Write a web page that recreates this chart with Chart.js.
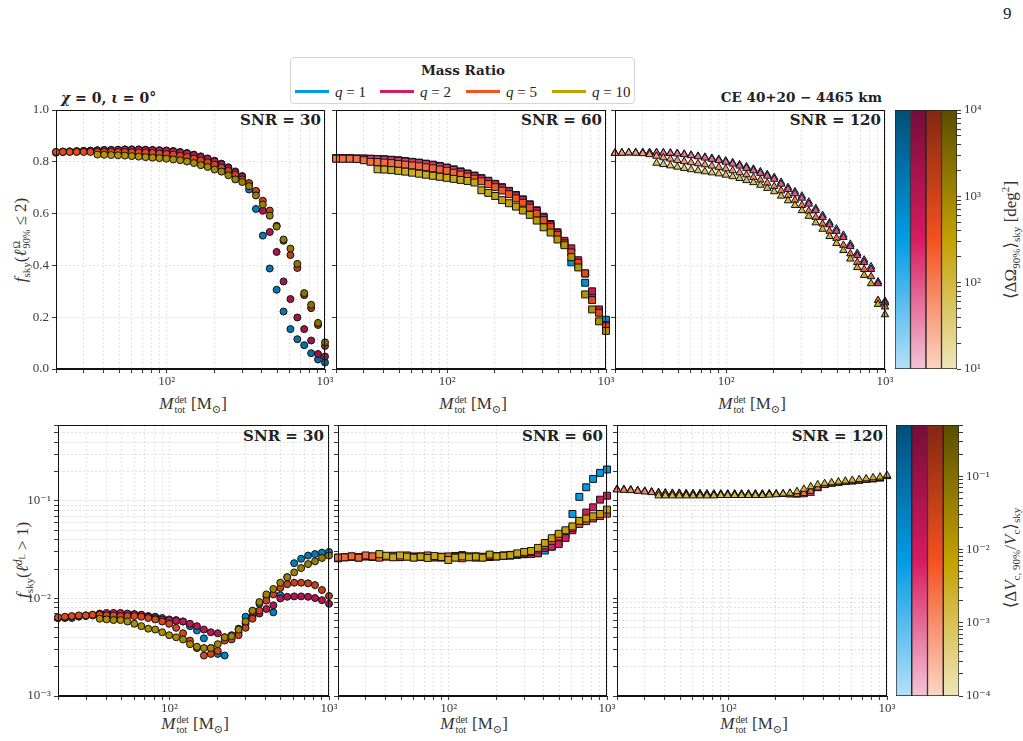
<!DOCTYPE html>
<html><head><meta charset="utf-8">
<script src="https://cdn.jsdelivr.net/npm/chart.js@4.4.1/dist/chart.umd.min.js"></script>
<style>
html,body{margin:0;padding:0;background:#fff;}
body{width:1023px;height:741px;position:relative;overflow:hidden;font-family:"Liberation Serif","DejaVu Serif",serif;color:#222;}
canvas{position:absolute;}
.tx{position:absolute;white-space:nowrap;line-height:1;}
.bold{font-family:"DejaVu Serif",serif;font-weight:bold;}
.snr{font-family:"DejaVu Serif",serif;font-weight:bold;font-size:15px;position:absolute;white-space:nowrap;line-height:1;transform:translateX(-100%);}
.rot{transform:translate(-50%,-50%) rotate(-90deg);}
.ctr{transform:translate(-50%,-50%);}
.ss{display:inline-flex;flex-direction:column;vertical-align:middle;font-size:0.6em;line-height:1.0;margin-left:1px;}
.up{display:inline-block;vertical-align:0.55em;font-size:0.68em;line-height:1;}
.dn{display:inline-block;vertical-align:-0.3em;font-size:0.75em;line-height:1;}
.lab{font-size:17px;color:#333;}
sub,sup{font-size:0.65em;line-height:0;}
.hd{position:absolute;height:3px;width:34px;top:90px;}
.lq{position:absolute;top:84px;font-size:15px;white-space:nowrap;}
</style></head><body>

<div class="tx" style="left:1003px;top:5px;font-size:17px;">9</div>

<div style="position:absolute;left:290px;top:57px;width:345px;height:47px;border:1px solid #d4d4d4;border-radius:4px;box-sizing:border-box;"></div>
<div class="tx bold ctr" style="left:463px;top:71px;font-size:13.5px;">Mass Ratio</div>
<div class="hd" style="left:295px;background:#039be5;"></div><div class="lq" style="left:335px;"><i>q</i> = 1</div>
<div class="hd" style="left:380px;background:#d81b60;"></div><div class="lq" style="left:420px;"><i>q</i> = 2</div>
<div class="hd" style="left:466px;background:#f4511e;"></div><div class="lq" style="left:506px;"><i>q</i> = 5</div>
<div class="hd" style="left:552px;background:#c4a000;"></div><div class="lq" style="left:592px;"><i>q</i> = 10</div>

<div class="tx bold" style="left:61px;top:91px;font-size:14px;"><i>χ</i> = 0, <i>ι</i> = 0°</div>
<div class="tx bold" style="left:882px;top:91px;font-size:13.5px;transform:translateX(-100%);">CE 40+20 − 4465 km</div>

<div class="snr" style="left:321px;top:113px;">SNR = 30</div>
<div class="snr" style="left:602px;top:113px;">SNR = 60</div>
<div class="snr" style="left:881px;top:113px;">SNR = 120</div>
<div class="snr" style="left:324px;top:429px;">SNR = 30</div>
<div class="snr" style="left:603px;top:429px;">SNR = 60</div>
<div class="snr" style="left:883px;top:429px;">SNR = 120</div>

<div class="tx lab ctr" style="left:193px;top:405px;"><i>M</i><span class="ss"><span>det</span><span>tot</span></span> [M<sub>⊙</sub>]</div>
<div class="tx lab ctr" style="left:473px;top:405px;"><i>M</i><span class="ss"><span>det</span><span>tot</span></span> [M<sub>⊙</sub>]</div>
<div class="tx lab ctr" style="left:752px;top:405px;"><i>M</i><span class="ss"><span>det</span><span>tot</span></span> [M<sub>⊙</sub>]</div>
<div class="tx lab ctr" style="left:195px;top:725px;"><i>M</i><span class="ss"><span>det</span><span>tot</span></span> [M<sub>⊙</sub>]</div>
<div class="tx lab ctr" style="left:474px;top:725px;"><i>M</i><span class="ss"><span>det</span><span>tot</span></span> [M<sub>⊙</sub>]</div>
<div class="tx lab ctr" style="left:754px;top:725px;"><i>M</i><span class="ss"><span>det</span><span>tot</span></span> [M<sub>⊙</sub>]</div>

<div class="tx lab rot" style="left:22px;top:240px;"><i>f</i><sub>sky</sub>(<i>ℓ</i><span class="ss"><span>Ω</span><span>90%</span></span> ≤ 2)</div>
<div class="tx lab rot" style="left:22px;top:560px;"><i>f</i><sub>sky</sub>(<i>ℓ</i><span class="up"><i>d</i><span class="dn">L</span></span> &gt; 1)</div>
<div class="tx lab rot" style="left:1010px;top:240px;">⟨ΔΩ<sub>90%</sub>⟩<sub>sky</sub> [deg<sup>2</sup>]</div>
<div class="tx lab rot" style="left:1010px;top:558px;">⟨Δ<i>V</i><sub>c, 90%</sub>/<i>V</i><sub>c</sub>⟩<sub>sky</sub></div>

<script>
// ---------------- DATA ----------------
const MASS = [20.0,22.1,24.4,27.0,29.9,33.0,36.5,40.3,44.6,49.3,54.5,60.2,66.6,73.6,81.4,90.0,99.5,110.0,121.6,134.4,148.6,164.3,181.6,200.8,221.9,245.3,271.2,299.8,331.4,366.4,405.0,447.8,495.0,547.2,605.0,668.8,739.3,817.3,903.6,1000.0];
const Q_LABELS = ['q = 1','q = 2','q = 5','q = 10'];
const SNR_LABELS = ['SNR = 30','SNR = 60','SNR = 120'];
const N6 = [null,null,null,null,null,null];

// f_sky(l^Omega_90% <= 2)
const SKY30_Q1 = [0.838,0.840,0.840,0.841,0.842,0.843,0.845,0.846,0.846,0.847,0.848,0.848,0.848,0.847,0.846,0.845,0.844,0.842,0.838,0.834,0.828,0.821,0.813,0.804,0.793,0.779,0.763,0.745,0.693,0.618,0.515,0.388,0.306,0.222,0.154,0.115,0.092,0.061,0.037,0.025];
const SKY30_Q2 = [0.835,0.838,0.840,0.841,0.842,0.843,0.844,0.845,0.846,0.846,0.847,0.847,0.846,0.845,0.844,0.843,0.842,0.840,0.836,0.832,0.826,0.819,0.811,0.802,0.790,0.776,0.760,0.742,0.715,0.685,0.611,0.529,0.452,0.338,0.270,0.199,0.154,0.110,0.058,0.048];
const SKY30_Q5 = [0.838,0.838,0.838,0.838,0.838,0.838,0.838,0.838,0.838,0.838,0.838,0.837,0.836,0.835,0.834,0.832,0.830,0.828,0.824,0.819,0.813,0.806,0.798,0.789,0.778,0.765,0.750,0.732,0.718,0.688,0.650,0.612,0.553,0.495,0.440,0.390,0.285,0.235,0.170,0.089];
const SKY30_Q10 = N6.concat([0.828,0.827,0.826,0.825,0.824,0.822,0.820,0.818,0.816,0.814,0.812,0.809,0.806,0.801,0.795,0.787,0.780,0.770,0.762,0.748,0.732,0.722,0.706,0.670,0.635,0.592,0.550,0.500,0.465,0.406,0.293,0.248,0.178,0.103]);

const SKY60_Q1 = [0.814,0.814,0.814,0.813,0.813,0.812,0.811,0.810,0.808,0.806,0.803,0.800,0.797,0.793,0.789,0.784,0.778,0.771,0.763,0.755,0.747,0.737,0.727,0.715,0.702,0.688,0.672,0.655,0.636,0.613,0.588,0.560,0.528,0.490,0.412,0.400,0.333,0.280,0.222,0.190];
const SKY60_Q2 = [0.813,0.813,0.813,0.812,0.812,0.811,0.810,0.808,0.806,0.804,0.801,0.798,0.795,0.791,0.787,0.782,0.776,0.769,0.761,0.753,0.745,0.735,0.725,0.713,0.700,0.686,0.670,0.653,0.633,0.610,0.585,0.556,0.525,0.495,0.466,0.420,0.369,0.300,0.230,0.170];
const SKY60_Q5 = [0.812,0.812,0.812,0.811,0.806,0.800,0.799,0.797,0.795,0.792,0.789,0.786,0.783,0.779,0.775,0.770,0.765,0.758,0.751,0.743,0.735,0.725,0.714,0.702,0.689,0.675,0.659,0.642,0.623,0.600,0.575,0.548,0.517,0.485,0.450,0.410,0.369,0.266,0.217,0.165];
const SKY60_Q10 = N6.concat([0.771,0.770,0.768,0.765,0.762,0.758,0.754,0.750,0.746,0.742,0.738,0.734,0.730,0.726,0.720,0.690,0.680,0.668,0.652,0.640,0.627,0.612,0.595,0.573,0.547,0.527,0.500,0.478,0.432,0.392,0.288,0.230,0.184,0.147]);

const SKY120_Q1 = [0.835,0.835,0.836,0.836,0.836,0.836,0.836,0.835,0.834,0.833,0.830,0.826,0.822,0.818,0.814,0.810,0.804,0.797,0.789,0.781,0.772,0.762,0.751,0.740,0.721,0.701,0.685,0.668,0.645,0.620,0.593,0.565,0.541,0.517,0.482,0.447,0.421,0.395,0.337,0.262];
const SKY120_Q2 = [0.833,0.834,0.835,0.835,0.835,0.835,0.835,0.834,0.833,0.831,0.828,0.824,0.820,0.815,0.810,0.805,0.799,0.792,0.784,0.775,0.766,0.756,0.745,0.733,0.714,0.694,0.677,0.660,0.637,0.612,0.585,0.557,0.532,0.508,0.473,0.438,0.412,0.385,0.330,0.255];
const SKY120_Q5 = [0.833,0.834,0.835,0.834,0.832,0.828,0.822,0.816,0.811,0.806,0.801,0.797,0.793,0.789,0.784,0.779,0.773,0.766,0.758,0.750,0.740,0.730,0.718,0.705,0.688,0.670,0.652,0.632,0.610,0.586,0.560,0.532,0.505,0.478,0.445,0.412,0.385,0.357,0.265,0.240];
const SKY120_Q10 = N6.concat([0.795,0.790,0.785,0.780,0.775,0.770,0.766,0.762,0.758,0.754,0.749,0.743,0.736,0.728,0.720,0.710,0.698,0.685,0.668,0.650,0.632,0.612,0.590,0.565,0.540,0.512,0.485,0.458,0.425,0.392,0.362,0.330,0.250,0.210]);

// f_sky(l^dL > 1)
const DL30_Q1 = [0.0063,0.0063,0.0063,0.0065,0.0066,0.0067,0.0068,0.0069,0.0070,0.0070,0.0069,0.0069,0.0068,0.0066,0.0065,0.0063,0.0061,0.0060,0.0058,0.0052,0.0047,0.0039,0.0031,0.0027,0.0026,0.0040,0.0049,0.0065,0.0074,0.0088,0.0105,0.0072,0.0108,0.0165,0.0230,0.0255,0.0275,0.0285,0.0295,0.0300];
const DL30_Q2 = [0.0063,0.0064,0.0065,0.0066,0.0067,0.0068,0.0070,0.0071,0.0071,0.0071,0.0070,0.0069,0.0068,0.0065,0.0063,0.0061,0.0060,0.0059,0.0058,0.0055,0.0052,0.0048,0.0045,0.0044,0.0040,0.0042,0.0045,0.0055,0.0065,0.0070,0.0078,0.0085,0.0100,0.0104,0.0105,0.0105,0.0104,0.0101,0.0096,0.0088];
const DL30_Q5 = [0.0064,0.0065,0.0066,0.0067,0.0067,0.0068,0.0068,0.0067,0.0067,0.0066,0.0066,0.0066,0.0065,0.0063,0.0061,0.0058,0.0055,0.0050,0.0044,0.0037,0.0031,0.0026,0.0027,0.0029,0.0037,0.0038,0.0042,0.0050,0.0062,0.0075,0.0095,0.0110,0.0128,0.0140,0.0145,0.0145,0.0143,0.0137,0.0122,0.0106];
const DL30_Q10 = N6.concat([0.0062,0.0061,0.0060,0.0060,0.0058,0.0055,0.0052,0.0049,0.0048,0.0045,0.0042,0.0040,0.0038,0.0034,0.0032,0.0031,0.0031,0.0034,0.0040,0.0041,0.0048,0.0058,0.0075,0.0092,0.0110,0.0125,0.0145,0.0165,0.0185,0.0205,0.0225,0.0240,0.0260,0.0275]);

const DL60_Q1 = [0.0262,0.0265,0.0268,0.0266,0.0270,0.0268,0.0270,0.0272,0.0270,0.0268,0.0271,0.0269,0.0267,0.0270,0.0266,0.0268,0.0265,0.0270,0.0278,0.0268,0.0270,0.0266,0.0268,0.0272,0.0274,0.0276,0.0280,0.0284,0.0288,0.0296,0.0310,0.0340,0.0370,0.0450,0.0735,0.1100,0.1380,0.1680,0.1940,0.2100];
const DL60_Q2 = [0.0258,0.0265,0.0268,0.0262,0.0270,0.0267,0.0266,0.0272,0.0268,0.0266,0.0270,0.0268,0.0265,0.0270,0.0264,0.0266,0.0264,0.0272,0.0274,0.0266,0.0268,0.0264,0.0266,0.0270,0.0272,0.0276,0.0282,0.0286,0.0286,0.0290,0.0330,0.0340,0.0360,0.0417,0.0500,0.0620,0.0760,0.0860,0.1030,0.1130];
const DL60_Q5 = [0.0262,0.0264,0.0270,0.0262,0.0276,0.0270,0.0262,0.0268,0.0274,0.0265,0.0276,0.0264,0.0270,0.0276,0.0264,0.0262,0.0270,0.0264,0.0258,0.0270,0.0262,0.0268,0.0272,0.0270,0.0276,0.0280,0.0284,0.0290,0.0300,0.0318,0.0350,0.0390,0.0430,0.0490,0.0530,0.0580,0.0620,0.0660,0.0700,0.0740];
const DL60_Q10 = N6.concat([0.0285,0.0274,0.0264,0.0276,0.0268,0.0262,0.0268,0.0260,0.0272,0.0266,0.0248,0.0262,0.0270,0.0264,0.0268,0.0262,0.0282,0.0270,0.0274,0.0278,0.0290,0.0300,0.0307,0.0330,0.0370,0.0415,0.0460,0.0500,0.0548,0.0625,0.0660,0.0695,0.0735,0.0815]);

const DL120_Q1 = [0.131,0.130,0.129,0.127,0.125,0.123,0.121,0.120,0.119,0.119,0.118,0.118,0.118,0.118,0.117,0.117,0.117,0.117,0.117,0.117,0.117,0.117,0.118,0.118,0.119,0.120,0.122,0.126,0.131,0.139,0.146,0.150,0.153,0.156,0.158,0.161,0.164,0.166,0.170,0.180];
const DL120_Q2 = [0.132,0.131,0.130,0.128,0.126,0.124,0.122,0.121,0.120,0.120,0.119,0.119,0.119,0.118,0.118,0.118,0.118,0.118,0.118,0.118,0.118,0.118,0.118,0.118,0.117,0.116,0.115,0.116,0.120,0.134,0.144,0.149,0.152,0.155,0.157,0.160,0.163,0.165,0.168,0.178];
const DL120_Q5 = [0.130,0.129,0.128,0.126,0.124,0.122,0.120,0.119,0.118,0.118,0.117,0.117,0.117,0.117,0.116,0.116,0.116,0.116,0.116,0.116,0.116,0.116,0.117,0.117,0.117,0.116,0.117,0.120,0.126,0.136,0.145,0.150,0.153,0.156,0.158,0.161,0.164,0.166,0.170,0.180];
const DL120_Q10 = N6.concat([0.113,0.113,0.113,0.113,0.113,0.113,0.113,0.113,0.113,0.114,0.114,0.114,0.114,0.114,0.114,0.114,0.115,0.116,0.118,0.120,0.125,0.132,0.140,0.147,0.151,0.154,0.157,0.160,0.163,0.166,0.169,0.173,0.176,0.183]);

// colour values: <dOmega_90%>_sky [deg^2] and <dVc,90%/Vc>_sky
const AREA_SNR30 = [450,450,455,460,465,470,475,480,490,500,510,520,530,545,560,580,600,620,650,680,710,750,790,840,890,950,1010,1080,1150,1230,1320,1410,1510,1620,1740,1870,2000,2150,2300,2500];
const AREA_SNR60 = [140,140,142,144,146,148,150,152,155,158,161,165,169,173,178,184,190,197,205,214,224,235,247,260,274,290,307,325,345,367,390,415,442,471,502,535,570,607,650,700];
const AREA_SNR120 = [45,45,45,46,46,47,47,48,49,50,51,52,53,54,56,57,59,61,63,66,69,72,75,79,83,87,92,97,102,108,114,121,128,136,145,154,164,175,187,200];
const DVC_SNR30 = [0.016,0.016,0.016,0.016,0.016,0.017,0.017,0.017,0.017,0.018,0.018,0.018,0.019,0.019,0.020,0.020,0.021,0.021,0.022,0.022,0.023,0.024,0.025,0.026,0.027,0.028,0.029,0.030,0.031,0.032,0.033,0.034,0.035,0.036,0.037,0.038,0.040,0.041,0.043,0.045];
const DVC_SNR60 = [0.0035,0.0035,0.0035,0.0036,0.0036,0.0036,0.0037,0.0037,0.0038,0.0038,0.0039,0.0039,0.0040,0.0041,0.0041,0.0042,0.0043,0.0044,0.0045,0.0046,0.0047,0.0048,0.0049,0.0050,0.0052,0.0053,0.0055,0.0056,0.0058,0.0060,0.0062,0.0064,0.0066,0.0068,0.0070,0.0072,0.0075,0.0078,0.0081,0.0085];
const DVC_SNR120 = [0.0012,0.0012,0.0012,0.0012,0.0012,0.0013,0.0013,0.0013,0.0013,0.0013,0.0014,0.0014,0.0014,0.0014,0.0015,0.0015,0.0015,0.0016,0.0016,0.0016,0.0017,0.0017,0.0018,0.0018,0.0019,0.0019,0.0020,0.0020,0.0021,0.0022,0.0022,0.0023,0.0024,0.0025,0.0025,0.0026,0.0027,0.0028,0.0029,0.0030];

// tick positions
const X_TICKS = [20,30,40,50,60,70,80,90,100,200,300,400,500,600,700,800,900,1000];
const SKY_TICKS = [0,0.2,0.4,0.6,0.8,1.0];
const DL_TICKS = [0.001,0.002,0.003,0.004,0.005,0.006,0.007,0.008,0.009,0.01,0.02,0.03,0.04,0.05,0.06,0.07,0.08,0.09,0.1,0.2,0.3,0.4,0.5,0.6];
const AREA_TICKS = [10,20,30,40,50,60,70,80,90,100,200,300,400,500,600,700,800,900,1000,2000,3000,4000,5000,6000,7000,8000,9000,10000];
const DVC_TICKS = [0.0001,0.0002,0.0003,0.0004,0.0005,0.0006,0.0007,0.0008,0.0009,0.001,0.002,0.003,0.004,0.005,0.006,0.007,0.008,0.009,0.01,0.02,0.03,0.04,0.05,0.06,0.07,0.08,0.09,0.1,0.2,0.3,0.4,0.5];
const X_RANGE = [20,1000];
const SKY_RANGE = [0,1];
const DL_RANGE = [0.001,0.6];
const AREA_RANGE = [10,10000];
const DVC_RANGE = [0.0001,0.5];

// ---------------- STYLE ----------------
const Q_LIGHT = ['#b4e0f7','#f4c4d6','#fdd5c3','#eee6ba'];
const Q_BASE  = ['#039be5','#d81b60','#f4511e','#c4a000'];
const Q_DARK  = ['#004e78','#760c3a','#842810','#5a4e00'];
const TICK_FONT = {family:'"Liberation Serif","DejaVu Serif",serif', size:13};
const TICK_COLOR = '#3a3a3a';

function hex2rgb(h){return [parseInt(h.slice(1,3),16),parseInt(h.slice(3,5),16),parseInt(h.slice(5,7),16)];}
function mix(a,b,f){const A=hex2rgb(a),B=hex2rgb(b);return 'rgb('+A.map((v,i)=>Math.round(v+(B[i]-v)*f)).join(',')+')';}
function cmap(q,t){t=Math.max(0,Math.min(1,t));return t<0.5?mix(Q_LIGHT[q],Q_BASE[q],t/0.5):mix(Q_BASE[q],Q_DARK[q],(t-0.5)/0.5);}
function tOf(v,range){return (Math.log10(v)-Math.log10(range[0]))/(Math.log10(range[1])-Math.log10(range[0]));}
const SUP={'-':'⁻','0':'⁰','1':'¹','2':'²','3':'³','4':'⁴','5':'⁵','6':'⁶','7':'⁷','8':'⁸','9':'⁹'};
function decadeLabel(v){const l=Math.log10(v),e=Math.round(l);if(Math.abs(l-e)>1e-6)return '';return '10'+String(e).split('').map(c=>SUP[c]).join('');}

function mkCanvas(x,y,w,h){const c=document.createElement('canvas');c.width=w;c.height=h;c.style.left=x+'px';c.style.top=y+'px';c.style.width=w+'px';c.style.height=h+'px';document.body.appendChild(c);return c;}

const framePlugin={id:'frame',afterDraw(chart){const a=chart.chartArea,c=chart.ctx;c.save();c.strokeStyle='#111';c.lineWidth=1;
  const l=Math.round(a.left)+0.5,t=Math.round(a.top)+0.5,r=Math.round(a.right)-0.5,b=Math.round(a.bottom)-0.5;c.strokeRect(l,t,r-l,b-t);c.restore();}};

function gridCfg(){return {color:'rgba(0,0,0,0.14)',lineWidth:0.8,drawTicks:true,tickLength:4,tickColor:'#222',tickWidth:0.9};}

function makePanel(p){
  const L=52,R=16,T=8,B=32;
  const w=p.box.r-p.box.l+L+R,h=p.box.b-p.box.t+T+B;
  const cv=mkCanvas(p.box.l-L,p.box.t-T,w,h);
  const datasets=p.series.map((ys,q)=>{
    const pts=[],cols=[];
    ys.forEach((y,i)=>{if(y!==null){pts.push({x:MASS[i],y:y});cols.push(cmap(q,tOf(p.colorVals[i],p.cRange)));}});
    return {label:Q_LABELS[q],data:pts,order:3-q,pointStyle:p.style,pointRadius:p.radius,pointHoverRadius:p.radius,
      pointBackgroundColor:cols,pointBorderColor:'#111',pointBorderWidth:1,showLine:false,clip:false};
  });
  const isLogY=p.yType==='logarithmic';
  new Chart(cv,{type:'scatter',data:{datasets},plugins:[framePlugin],
    options:{responsive:false,animation:false,devicePixelRatio:1,
      layout:{padding:{left:0,right:R,top:T,bottom:0}},
      plugins:{legend:{display:false},tooltip:{enabled:false}},
      scales:{
        x:{type:'logarithmic',min:X_RANGE[0],max:X_RANGE[1],
          afterBuildTicks:s=>{s.ticks=X_TICKS.map(v=>({value:v}));},
          afterFit:s=>{s.height=B;s.paddingLeft=0;s.paddingRight=0;},
          ticks:{autoSkip:false,maxRotation:0,minRotation:0,padding:1,font:TICK_FONT,color:TICK_COLOR,callback:v=>decadeLabel(v)},
          grid:gridCfg(),border:{display:true,color:'#111',width:1,dash:[2,2]}},
        y:{type:p.yType,min:p.yRange[0],max:p.yRange[1],
          afterBuildTicks:s=>{s.ticks=p.yTicks.map(v=>({value:v}));},
          afterFit:s=>{s.width=L;s.paddingTop=0;s.paddingBottom=0;},
          ticks:{autoSkip:false,padding:3,font:TICK_FONT,color:TICK_COLOR,
            callback:v=>p.yLabels?(isLogY?decadeLabel(v):Number(v).toFixed(1)):''},
          grid:gridCfg(),border:{display:true,color:'#111',width:1,dash:[2,2]}}
      }}});
}

function makeColorbar(cb){
  const R=52,T=8,B=8,Lp=1;
  const cv=mkCanvas(cb.box.l-Lp,cb.box.t-T,cb.box.r-cb.box.l+R+Lp,cb.box.b-cb.box.t+T+B);
  new Chart(cv,{type:'bar',
    data:{labels:Q_LABELS,datasets:[{data:Q_LABELS.map(()=>[cb.range[0],cb.range[1]]),
      backgroundColor:ctx=>{const a=ctx.chart.chartArea;const q=ctx.dataIndex;if(!a)return Q_BASE[q];
        const g=ctx.chart.ctx.createLinearGradient(0,a.bottom,0,a.top);
        for(let k=0;k<=10;k++){g.addColorStop(k/10,cmap(q,k/10));}return g;},
      borderColor:'#222',borderWidth:1,borderSkipped:false,barPercentage:1,categoryPercentage:1}]},
    options:{responsive:false,animation:false,devicePixelRatio:1,
      layout:{padding:{left:Lp,right:0,top:T,bottom:B}},
      plugins:{legend:{display:false},tooltip:{enabled:false}},
      scales:{
        x:{display:false},
        y:{type:'logarithmic',position:'right',min:cb.range[0],max:cb.range[1],
          afterBuildTicks:s=>{s.ticks=cb.ticks.map(v=>({value:v}));},
          afterFit:s=>{s.width=R;s.paddingTop=0;s.paddingBottom=0;},
          ticks:{autoSkip:false,padding:3,font:TICK_FONT,color:TICK_COLOR,callback:v=>decadeLabel(v)},
          grid:{drawOnChartArea:false,drawTicks:true,tickLength:4,tickColor:'#222',tickWidth:0.9},
          border:{display:false}}
      }}});
}

// ---------------- LAYOUT ----------------
const TOP={t:110,b:369}, BOT={t:425,b:696};
const panels=[
  {box:{l:56,r:325,...TOP},series:[SKY30_Q1,SKY30_Q2,SKY30_Q5,SKY30_Q10],colorVals:AREA_SNR30,cRange:AREA_RANGE,style:'circle',radius:3.5,yType:'linear',yRange:SKY_RANGE,yTicks:SKY_TICKS,yLabels:true},
  {box:{l:336,r:606,...TOP},series:[SKY60_Q1,SKY60_Q2,SKY60_Q5,SKY60_Q10],colorVals:AREA_SNR60,cRange:AREA_RANGE,style:'rect',radius:4.9,yType:'linear',yRange:SKY_RANGE,yTicks:SKY_TICKS,yLabels:false},
  {box:{l:615,r:885,...TOP},series:[SKY120_Q1,SKY120_Q2,SKY120_Q5,SKY120_Q10],colorVals:AREA_SNR120,cRange:AREA_RANGE,style:'triangle',radius:4.3,yType:'linear',yRange:SKY_RANGE,yTicks:SKY_TICKS,yLabels:false},
  {box:{l:58,r:329,...BOT},series:[DL30_Q1,DL30_Q2,DL30_Q5,DL30_Q10],colorVals:DVC_SNR30,cRange:DVC_RANGE,style:'circle',radius:3.5,yType:'logarithmic',yRange:DL_RANGE,yTicks:DL_TICKS,yLabels:true},
  {box:{l:338,r:607,...BOT},series:[DL60_Q1,DL60_Q2,DL60_Q5,DL60_Q10],colorVals:DVC_SNR60,cRange:DVC_RANGE,style:'rect',radius:4.9,yType:'logarithmic',yRange:DL_RANGE,yTicks:DL_TICKS,yLabels:false},
  {box:{l:617,r:887,...BOT},series:[DL120_Q1,DL120_Q2,DL120_Q5,DL120_Q10],colorVals:DVC_SNR120,cRange:DVC_RANGE,style:'triangle',radius:4.3,yType:'logarithmic',yRange:DL_RANGE,yTicks:DL_TICKS,yLabels:false}
];
panels.forEach(makePanel);
makeColorbar({box:{l:895,r:957,...TOP},range:AREA_RANGE,ticks:AREA_TICKS});
makeColorbar({box:{l:896,r:959,...BOT},range:DVC_RANGE,ticks:DVC_TICKS});
</script>
</body></html>
